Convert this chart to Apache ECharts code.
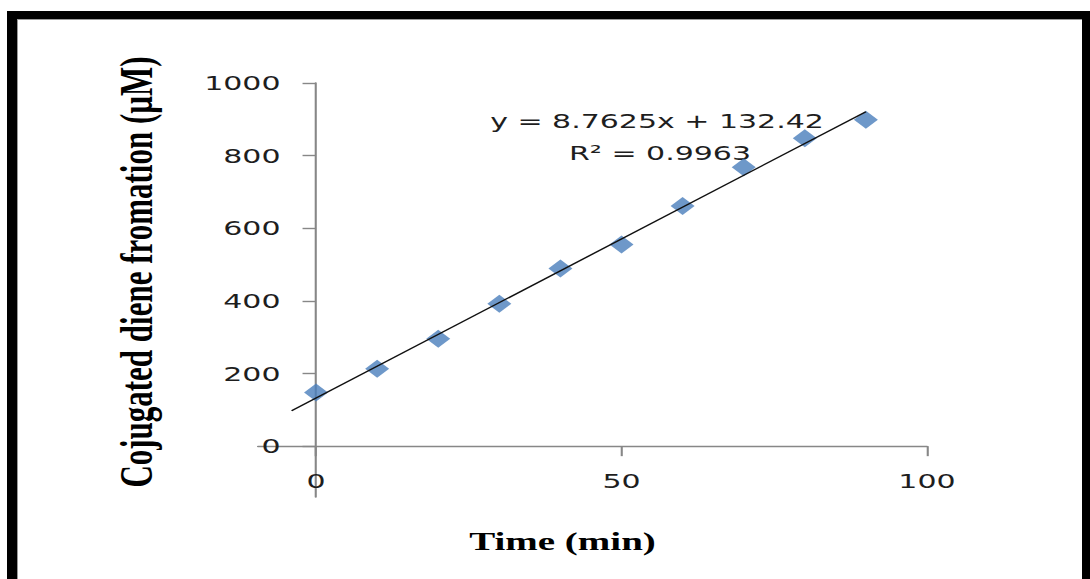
<!DOCTYPE html>
<html>
<head>
<meta charset="utf-8">
<script src="https://cdn.jsdelivr.net/npm/echarts@6/dist/echarts.min.js"></script>
<style>
  html, body { margin: 0; padding: 0; background: #fff; overflow: hidden; width: 1090px; height: 579px; }
  #frame {
    position: absolute; left: 7px; top: 11px; width: 1065px; height: 600px;
    border-top: 8px solid #000; border-left: 10px solid #000; border-right: 8px solid #000;
    box-shadow: inset 1px 1px 0 #9a9a9a;
  }
  /* the figure is laid out narrow, then widened 1.5x like the printed plate */
  #chart {
    position: absolute; left: 0; top: 0; width: 726.667px; height: 579px;
    transform: scaleX(1.5); transform-origin: 0 0;
  }
</style>
</head>
<body>
<div id="frame"></div>
<div id="chart"></div>
<script>
// Conjugated diene formation over time
const times = [0, 10, 20, 30, 40, 50, 60, 70, 80, 90];
const dieneValues = [148, 213, 296, 392, 489, 555, 661, 768, 848, 899];

// Linear trend fitted to the points
const trendSlope = 8.7625;
const trendIntercept = 132.42;
const trendR2 = 0.9963;
const trendRange = [-4, 90];

// Tick labels
const xTicks = [0, 50, 100];
const yTicks = [0, 200, 400, 600, 800, 1000];

const xTitle = 'Time (min)';
const yTitle = 'Cojugated diene fromation (µM)';

const scatterData = times.map((t, i) => [t, dieneValues[i]]);
const trendData = trendRange.map(x => [x, trendSlope * x + trendIntercept]);

const tickFont = { fontFamily: 'DejaVu Sans', fontSize: 20, color: '#1e1e1e' };
const axisGray = '#878787';
const plain = v => String(v);

const chart = echarts.init(document.getElementById('chart'), null, { renderer: 'svg' });
chart.setOption({
  animation: false,
  backgroundColor: 'transparent',
  grid: { left: 172, top: 83, width: 446, height: 414, containLabel: false },
  xAxis: {
    type: 'value', min: -9.5, max: 100,
    axisLine: { onZero: true, lineStyle: { color: axisGray, width: 1.4 } },
    axisTick: { customValues: xTicks, length: 10, lineStyle: { color: axisGray, width: 1.4 } },
    // labels sit just under the zero line, which is above the plot's lower edge
    axisLabel: Object.assign({ customValues: xTicks, margin: -26, formatter: plain }, tickFont),
    splitLine: { show: false }
  },
  yAxis: {
    type: 'value', min: -140, max: 1000,
    axisLine: { onZero: true, lineStyle: { color: axisGray, width: 1.4 } },
    axisTick: { customValues: yTicks, length: 9, lineStyle: { color: axisGray, width: 1.4 } },
    // labels sit just left of the zero line, which is right of the plot's left edge
    axisLabel: Object.assign({ customValues: yTicks, margin: -15, formatter: plain }, tickFont),
    splitLine: { show: false }
  },
  series: [
    {
      type: 'scatter', data: scatterData, symbol: 'diamond', symbolSize: [16, 18],
      itemStyle: { color: '#4A7EBB' }, z: 2
    },
    {
      type: 'line', data: trendData, showSymbol: false, symbol: 'none',
      lineStyle: { color: '#111', width: 1.3 }, z: 3, silent: true
    }
  ],
  graphic: [
    {
      type: 'text', x: 438, y: 121,
      style: {
        text: 'y = ' + trendSlope + 'x + ' + trendIntercept,
        font: '20px "DejaVu Sans"', fill: '#1e1e1e', textAlign: 'center', textVerticalAlign: 'middle'
      }
    },
    {
      type: 'text', x: 440, y: 153,
      style: {
        text: 'R² = ' + trendR2,
        font: '20px "DejaVu Sans"', fill: '#1e1e1e', textAlign: 'center', textVerticalAlign: 'middle'
      }
    },
    {
      type: 'text', x: 375, y: 541,
      style: {
        text: xTitle,
        font: 'bold 26px "Liberation Serif"', fill: '#000', textAlign: 'center', textVerticalAlign: 'middle'
      }
    },
    {
      type: 'text', x: 91, y: 272, rotation: Math.PI / 2,
      style: {
        text: yTitle,
        font: 'bold 31px "Liberation Serif"', fill: '#000', textAlign: 'center', textVerticalAlign: 'middle'
      }
    }
  ]
});
</script>
</body>
</html>
